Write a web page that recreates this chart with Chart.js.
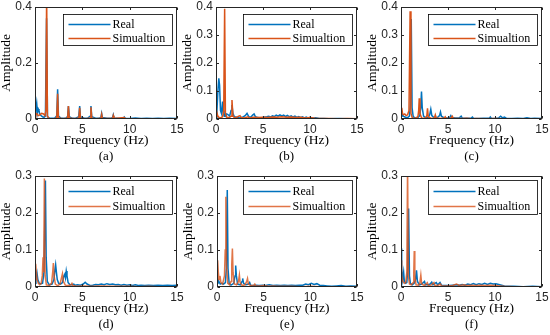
<!DOCTYPE html>
<html>
<head>
<meta charset="utf-8">
<script src="https://cdn.jsdelivr.net/npm/chart.js@4.4.1/dist/chart.umd.min.js"></script>
<style>
  body { margin: 0; background: #fff; width: 550px; height: 335px; position: relative; overflow: hidden; }
  canvas { position: absolute; }
</style>
</head>
<body>
<canvas id="pa"></canvas>
<canvas id="pb"></canvas>
<canvas id="pc"></canvas>
<canvas id="pd"></canvas>
<canvas id="pe"></canvas>
<canvas id="pf"></canvas>
<script>
// tick labels and names
const xTicks = [0, 5, 10, 15];
const yTicksA = [0, 0.2, 0.4];
const yTicksTop = [0, 0.1, 0.2, 0.3, 0.4];
const yTicksBottom = [0, 0.1, 0.2, 0.3];
const seriesNames = ['Real', 'Simualtion'];

// spectra: [frequency Hz, amplitude]
const realA = [[0,0.012],[0.08,0.03],[0.18,0.056],[0.26,0.022],[0.34,0.036],[0.42,0.03],[0.52,0.016],[0.65,0.012],[0.8,0.008],[0.95,0.006],[1.1,0.01],[1.22,0.36],[1.32,0.008],[1.5,0.004],[1.8,0.003],[2.1,0.004],[2.3,0.012],[2.39,0.106],[2.48,0.01],[2.7,0.004],[3.0,0.003],[3.3,0.004],[3.45,0.01],[3.53,0.046],[3.62,0.008],[3.9,0.003],[4.3,0.003],[4.62,0.008],[4.72,0.046],[4.8,0.008],[5.2,0.003],[5.6,0.004],[5.82,0.01],[5.91,0.046],[6.0,0.008],[6.4,0.003],[6.8,0.003],[6.96,0.006],[7.04,0.02],[7.12,0.005],[7.6,0.003],[8.1,0.003],[8.2,0.006],[8.27,0.015],[8.35,0.004],[8.9,0.002],[9.35,0.003],[9.43,0.007],[9.52,0.003],[10.0,0.002],[10.6,0.004],[11.2,0.002],[11.8,0.003],[12.4,0.002],[13.0,0.003],[13.6,0.002],[14.2,0.003],[15,0.002]];
const simA = [[0,0.005],[0.08,0.02],[0.2,0.018],[0.35,0.012],[0.5,0.015],[0.7,0.02],[0.9,0.018],[1.05,0.012],[1.15,0.03],[1.23,0.45],[1.31,0.01],[1.5,0.002],[2.0,0.001],[2.3,0.004],[2.39,0.09],[2.47,0.004],[3.0,0.001],[3.45,0.004],[3.53,0.046],[3.61,0.004],[4.2,0.001],[4.64,0.004],[4.72,0.04],[4.8,0.003],[5.4,0.001],[5.83,0.004],[5.91,0.042],[5.99,0.003],[6.5,0.001],[6.97,0.003],[7.04,0.016],[7.11,0.002],[8.2,0.002],[8.27,0.012],[8.34,0.002],[9.43,0.005],[9.5,0.001],[15,0.001]];

const realB = [[0,0.005],[0.1,0.03],[0.2,0.1],[0.3,0.145],[0.38,0.12],[0.48,0.03],[0.58,0.02],[0.7,0.062],[0.78,0.02],[0.88,0.01],[0.95,0.03],[1.05,0.012],[1.15,0.018],[1.3,0.015],[1.45,0.01],[1.6,0.03],[1.7,0.05],[1.8,0.02],[1.95,0.008],[2.2,0.006],[2.5,0.004],[2.8,0.006],[3.1,0.012],[3.3,0.02],[3.5,0.008],[3.7,0.006],[3.9,0.014],[4.05,0.018],[4.2,0.008],[4.5,0.005],[4.8,0.004],[5.1,0.006],[5.4,0.008],[5.6,0.01],[5.8,0.007],[6.0,0.011],[6.2,0.009],[6.4,0.014],[6.6,0.01],[6.8,0.015],[7.0,0.011],[7.2,0.014],[7.4,0.009],[7.6,0.013],[7.8,0.008],[8.0,0.011],[8.2,0.007],[8.4,0.01],[8.6,0.006],[8.8,0.009],[9.0,0.005],[9.2,0.008],[9.4,0.004],[9.6,0.007],[9.8,0.004],[10.0,0.006],[10.3,0.003],[10.6,0.004],[11,0.002],[11.5,0.002],[12,0.001],[13,0.002],[14,0.001],[15,0.001]];
const simB = [[0,0.01],[0.08,0.025],[0.18,0.012],[0.3,0.006],[0.5,0.004],[0.7,0.008],[0.82,0.03],[0.92,0.394],[1.0,0.02],[1.15,0.006],[1.4,0.005],[1.6,0.01],[1.7,0.068],[1.8,0.01],[2.0,0.004],[2.3,0.008],[2.55,0.012],[2.7,0.005],[3.0,0.004],[3.4,0.008],[3.5,0.004],[4.0,0.006],[4.5,0.005],[5.0,0.006],[5.5,0.005],[6.0,0.007],[6.5,0.006],[7.0,0.008],[7.5,0.006],[8.0,0.007],[8.5,0.005],[9.0,0.006],[9.5,0.004],[10.0,0.005],[10.5,0.003],[11,0.002],[12,0.002],[13,0.001],[14,0.002],[15,0.001]];

const realC = [[0,0.01],[0.1,0.02],[0.2,0.012],[0.35,0.008],[0.5,0.006],[0.7,0.005],[0.9,0.01],[1.0,0.05],[1.09,0.357],[1.18,0.04],[1.3,0.008],[1.5,0.004],[1.8,0.005],[2.0,0.012],[2.1,0.04],[2.18,0.098],[2.26,0.04],[2.4,0.01],[2.6,0.005],[2.9,0.006],[3.05,0.015],[3.17,0.035],[3.28,0.012],[3.5,0.005],[3.9,0.006],[4.1,0.012],[4.2,0.025],[4.3,0.01],[4.6,0.004],[5.0,0.004],[5.2,0.006],[5.3,0.012],[5.4,0.005],[5.8,0.004],[6.2,0.004],[6.4,0.01],[6.5,0.004],[7.0,0.003],[7.5,0.004],[7.6,0.007],[7.7,0.003],[8.2,0.002],[8.8,0.003],[9.4,0.003],[9.5,0.007],[9.6,0.003],[10.0,0.002],[10.4,0.004],[10.6,0.01],[10.8,0.004],[11.0,0.007],[11.2,0.003],[11.8,0.002],[12.4,0.003],[13.0,0.002],[13.4,0.004],[13.8,0.002],[14.2,0.003],[15,0.002]];
const simC = [[0,0.02],[0.08,0.04],[0.16,0.02],[0.25,0.015],[0.4,0.018],[0.55,0.012],[0.7,0.015],[0.85,0.03],[0.97,0.385],[1.06,0.02],[1.2,0.004],[1.5,0.002],[1.8,0.008],[1.88,0.03],[1.94,0.074],[2.02,0.02],[2.2,0.003],[2.6,0.003],[2.75,0.012],[2.82,0.038],[2.9,0.008],[3.2,0.002],[3.55,0.004],[3.65,0.015],[3.75,0.004],[4.2,0.002],[4.6,0.004],[4.7,0.008],[4.8,0.002],[5.3,0.003],[5.45,0.01],[5.55,0.003],[6.0,0.002],[6.5,0.002],[7.0,0.003],[7.5,0.001],[8.0,0.002],[9,0.001],[10,0.002],[11,0.001],[12,0.001],[15,0.001]];

const realD = [[0,0.01],[0.1,0.03],[0.2,0.04],[0.3,0.02],[0.45,0.01],[0.6,0.008],[0.8,0.01],[0.95,0.04],[1.05,0.2],[1.1,0.288],[1.18,0.08],[1.3,0.015],[1.5,0.006],[1.8,0.008],[2.0,0.02],[2.1,0.045],[2.18,0.06],[2.26,0.04],[2.35,0.02],[2.5,0.01],[2.7,0.008],[2.9,0.012],[3.05,0.03],[3.15,0.035],[3.22,0.025],[3.3,0.043],[3.38,0.03],[3.5,0.012],[3.7,0.006],[3.9,0.006],[4.1,0.008],[4.2,0.005],[4.5,0.006],[4.8,0.005],[5.1,0.008],[5.3,0.013],[5.5,0.008],[5.8,0.004],[6.1,0.005],[6.4,0.007],[6.7,0.006],[7.0,0.008],[7.3,0.006],[7.6,0.009],[7.9,0.007],[8.2,0.008],[8.5,0.006],[8.8,0.007],[9.1,0.005],[9.4,0.007],[9.7,0.005],[10,0.006],[10.3,0.004],[10.6,0.006],[10.9,0.004],[11.2,0.005],[11.6,0.004],[12,0.005],[12.5,0.004],[13,0.005],[13.5,0.004],[14,0.005],[14.5,0.004],[15,0.005]];
const simD = [[0,0.02],[0.07,0.063],[0.14,0.04],[0.22,0.02],[0.35,0.01],[0.5,0.006],[0.65,0.01],[0.77,0.03],[0.85,0.08],[0.92,0.04],[0.99,0.293],[1.07,0.03],[1.2,0.006],[1.5,0.004],[1.75,0.01],[1.87,0.04],[1.94,0.065],[2.02,0.03],[2.15,0.008],[2.4,0.004],[2.65,0.008],[2.8,0.025],[2.9,0.036],[3.0,0.015],[3.2,0.005],[3.5,0.004],[3.8,0.006],[3.9,0.01],[4.0,0.004],[4.4,0.002],[5,0.003],[6,0.002],[7,0.003],[8,0.002],[9,0.002],[10,0.002],[11,0.001],[12,0.002],[13,0.001],[15,0.001]];

const realE = [[0,0.01],[0.1,0.02],[0.2,0.015],[0.35,0.008],[0.5,0.01],[0.7,0.008],[0.9,0.012],[1.0,0.05],[1.1,0.262],[1.18,0.05],[1.3,0.01],[1.5,0.005],[1.8,0.01],[1.93,0.03],[2.0,0.058],[2.08,0.03],[2.2,0.008],[2.5,0.006],[2.68,0.015],[2.75,0.023],[2.85,0.01],[3.1,0.006],[3.4,0.008],[3.5,0.012],[3.6,0.005],[3.9,0.004],[4.2,0.005],[4.5,0.004],[4.9,0.005],[5.2,0.004],[5.6,0.006],[6.0,0.004],[6.4,0.005],[6.8,0.004],[7.2,0.005],[7.6,0.004],[8.0,0.005],[8.4,0.004],[8.8,0.005],[9.2,0.005],[9.5,0.008],[9.8,0.006],[10.1,0.01],[10.4,0.007],[10.7,0.009],[11.0,0.005],[11.4,0.004],[11.8,0.003],[12.3,0.002],[12.8,0.003],[13.3,0.004],[13.8,0.002],[14.3,0.003],[15,0.002]];
const simE = [[0,0.02],[0.07,0.072],[0.14,0.04],[0.22,0.02],[0.32,0.03],[0.42,0.012],[0.6,0.008],[0.8,0.03],[0.88,0.1],[0.95,0.244],[1.02,0.06],[1.15,0.01],[1.35,0.006],[1.5,0.015],[1.58,0.06],[1.65,0.104],[1.72,0.04],[1.85,0.008],[2.1,0.006],[2.3,0.015],[2.4,0.032],[2.48,0.012],[2.7,0.004],[3.0,0.006],[3.18,0.015],[3.27,0.023],[3.36,0.008],[3.6,0.004],[3.95,0.005],[4.05,0.008],[4.15,0.003],[4.6,0.003],[5.0,0.004],[5.5,0.002],[6,0.003],[6.5,0.002],[7,0.002],[8,0.002],[9,0.001],[10,0.002],[11,0.001],[12,0.001],[15,0.001]];

const realF = [[0,0.06],[0.04,0.104],[0.1,0.05],[0.18,0.02],[0.28,0.04],[0.36,0.015],[0.5,0.01],[0.62,0.012],[0.72,0.05],[0.81,0.212],[0.9,0.03],[1.0,0.01],[1.2,0.006],[1.4,0.01],[1.55,0.02],[1.65,0.045],[1.75,0.015],[1.95,0.006],[2.2,0.008],[2.5,0.015],[2.6,0.006],[2.9,0.006],[3.1,0.008],[3.27,0.013],[3.4,0.006],[3.6,0.01],[3.75,0.012],[3.9,0.006],[4.15,0.012],[4.3,0.005],[4.7,0.004],[5.1,0.004],[5.5,0.005],[5.9,0.006],[6.2,0.005],[6.5,0.007],[6.8,0.005],[7.1,0.008],[7.4,0.006],[7.7,0.009],[8.0,0.006],[8.3,0.009],[8.6,0.007],[8.9,0.01],[9.2,0.007],[9.5,0.01],[9.8,0.008],[10.1,0.009],[10.4,0.007],[10.7,0.005],[11,0.003],[11.5,0.002],[12,0.002],[13,0.001],[14,0.002],[15,0.001]];
const simF = [[0,0.04],[0.04,0.072],[0.1,0.03],[0.2,0.015],[0.35,0.01],[0.5,0.012],[0.62,0.04],[0.7,0.33],[0.78,0.03],[0.9,0.008],[1.1,0.006],[1.3,0.012],[1.36,0.04],[1.41,0.097],[1.47,0.03],[1.6,0.006],[1.85,0.005],[2.0,0.01],[2.11,0.032],[2.2,0.008],[2.5,0.004],[2.8,0.012],[2.9,0.004],[3.2,0.005],[3.5,0.012],[3.6,0.004],[3.9,0.004],[4.2,0.008],[4.3,0.003],[4.8,0.003],[5.5,0.004],[5.9,0.008],[6.2,0.004],[6.7,0.006],[7.0,0.004],[7.5,0.005],[8.0,0.004],[8.5,0.005],[9.0,0.004],[9.5,0.005],[10,0.004],[10.5,0.003],[11,0.002],[12,0.001],[13,0.001],[15,0.001]];

const BLUE = '#0072BD';
const ORANGE = '#D95319';
const ORANGE_LIGHT = 'rgba(217,83,25,0.8)';
const AXIS = '#262626';
const SERIF = "'Liberation Serif', 'Times New Roman', serif";
const SANS = "'Liberation Sans', Arial, sans-serif";

// plot box, inward ticks, legend box and sub-caption
const framePlugin = {
  id: 'frame',
  afterDraw(chart, args, o) {
    const { ctx, chartArea: a, scales: { x, y } } = chart;
    const L = Math.round(a.left) + 0.5, R = Math.round(a.right) - 0.5;
    const T = Math.round(a.top) + 0.5, B = Math.round(a.bottom) - 0.5;
    const tl = 2.5;
    ctx.save();
    ctx.strokeStyle = AXIS;
    ctx.lineWidth = 1;
    ctx.strokeRect(L, T, R - L, B - T);
    ctx.beginPath();
    x.ticks.forEach(t => {
      const px = Math.round(x.getPixelForValue(t.value)) + 0.5;
      ctx.moveTo(px, B); ctx.lineTo(px, B - tl);
      ctx.moveTo(px, T); ctx.lineTo(px, T + tl);
    });
    y.ticks.forEach(t => {
      const py = Math.round(y.getPixelForValue(t.value)) + 0.5;
      ctx.moveTo(L, py); ctx.lineTo(L + tl, py);
      ctx.moveTo(R, py); ctx.lineTo(R - tl, py);
    });
    ctx.stroke();

    // legend
    const bw = 109, bh = o.legH;
    const bx = Math.round(a.right - 5 - bw) + 0.5;
    const by = Math.round(a.top + o.legTop) + 0.5;
    ctx.fillStyle = '#fff';
    ctx.fillRect(bx, by, bw, bh);
    ctx.strokeStyle = '#000';
    ctx.lineWidth = 0.8;
    ctx.strokeRect(bx, by, bw, bh);
    const rows = [by + o.row1, by + o.row2];
    const colors = [BLUE, o.simColor];
    ctx.font = '12px ' + SERIF;
    ctx.textBaseline = 'middle';
    ctx.textAlign = 'left';
    rows.forEach((ry, i) => {
      ctx.strokeStyle = colors[i];
      ctx.lineWidth = 1.5;
      ctx.beginPath();
      ctx.moveTo(bx + 5, ry); ctx.lineTo(bx + 47, ry);
      ctx.stroke();
      ctx.fillStyle = '#000';
      ctx.fillText(seriesNames[i], bx + 49, ry + 0.5);
    });

    // caption under the panel
    ctx.fillStyle = '#000';
    ctx.textAlign = 'center';
    ctx.font = '13px ' + SERIF;
    ctx.fillText(o.caption, (a.left + a.right) / 2, a.bottom + 37.5);
    ctx.restore();
  }
};

const panels = [
  { id: 'pa', caption: '(a)', real: realA, sim: simA, ymax: 0.4, yt: yTicksA, area: [35, 7, 177, 119], row: 0 },
  { id: 'pb', caption: '(b)', real: realB, sim: simB, ymax: 0.4, yt: yTicksTop, area: [216, 7, 357, 119], row: 0 },
  { id: 'pc', caption: '(c)', real: realC, sim: simC, ymax: 0.4, yt: yTicksTop, area: [401, 7, 542, 119], row: 0 },
  { id: 'pd', caption: '(d)', real: realD, sim: simD, ymax: 0.3, yt: yTicksBottom, area: [35, 176, 177, 287], row: 1 },
  { id: 'pe', caption: '(e)', real: realE, sim: simE, ymax: 0.3, yt: yTicksBottom, area: [217, 176, 357, 287], row: 1 },
  { id: 'pf', caption: '(f)', real: realF, sim: simF, ymax: 0.3, yt: yTicksBottom, area: [401, 176, 542, 287], row: 1 },
];

const YW = 40, PT = 12, PR = 12, XH = 28, PB = 22;

panels.forEach(p => {
  const [l, t, r, b] = p.area;
  const cv = document.getElementById(p.id);
  cv.width = (r - l) + YW + PR;
  cv.height = (b - t) + PT + XH + PB;
  cv.style.left = (l - YW) + 'px';
  cv.style.top = (t - PT) + 'px';
  const simColor = p.row === 0 ? ORANGE : ORANGE_LIGHT;
  const legend = p.row === 0
    ? { legTop: 7, legH: 31, row1: 10, row2: 24 }
    : { legTop: 4, legH: 34, row1: 11, row2: 26 };

  new Chart(cv, {
    type: 'line',
    data: {
      datasets: [
        { label: seriesNames[0], data: p.real.map(([x, y]) => ({ x, y })), borderColor: BLUE, borderWidth: 1.5, pointRadius: 0, order: 2 },
        { label: seriesNames[1], data: p.sim.map(([x, y]) => ({ x, y })), borderColor: simColor, borderWidth: 1.5, pointRadius: 0, order: 1 },
      ]
    },
    options: {
      responsive: false,
      animation: false,
      devicePixelRatio: 1,
      layout: { padding: { left: 0, top: PT, right: PR, bottom: PB } },
      plugins: {
        legend: { display: false },
        tooltip: { enabled: false },
        frame: Object.assign({ caption: p.caption, simColor }, legend),
      },
      scales: {
        x: {
          type: 'linear', min: 0, max: 15,
          afterBuildTicks: s => { s.ticks = xTicks.map(v => ({ value: v })); },
          afterFit: s => { s.height = XH; },
          grid: { display: false, drawTicks: false },
          border: { display: false },
          ticks: { padding: 3, color: AXIS, font: { family: SANS, size: 12 }, maxRotation: 0 },
          title: { display: true, text: 'Frequency (Hz)', color: '#000', padding: { top: 0, bottom: 0 }, font: { family: SERIF, size: 13.5, lineHeight: 1 } },
        },
        y: {
          type: 'linear', min: 0, max: p.ymax,
          afterBuildTicks: s => { s.ticks = p.yt.map(v => ({ value: v })); },
          afterFit: s => { s.width = YW; },
          grid: { display: false, drawTicks: false },
          border: { display: false },
          ticks: { padding: 3, color: AXIS, font: { family: SANS, size: 12 }, callback: v => String(v) },
          title: { display: true, text: 'Amplitude', color: '#000', padding: { top: 5, bottom: 0 }, font: { family: SERIF, size: 13.5, lineHeight: 1 } },
        }
      }
    },
    plugins: [framePlugin]
  });
});
</script>
</body>
</html>
